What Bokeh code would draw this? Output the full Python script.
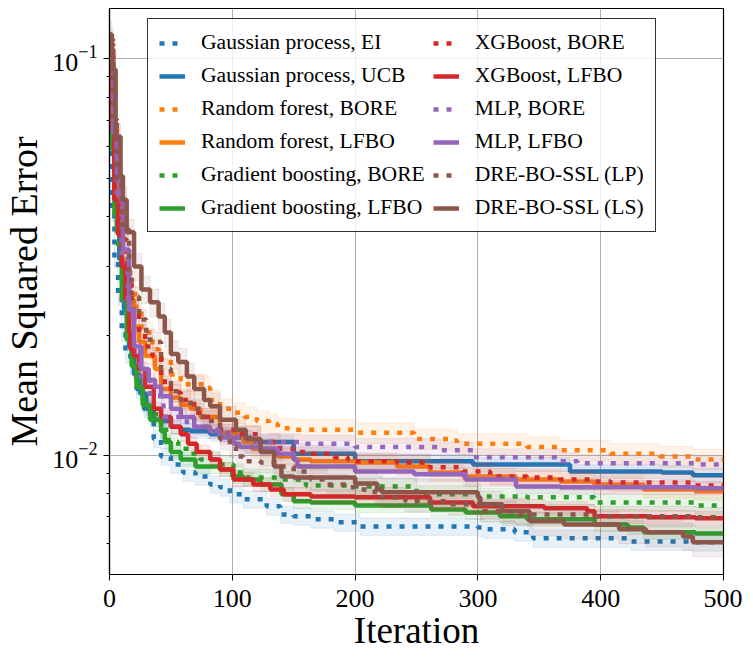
from bokeh.plotting import figure
from bokeh.models import Legend, LegendItem, FixedTicker, LogTickFormatter, Range1d
from bokeh.embed import file_html
from bokeh.resources import INLINE

# ---------------- data ----------------
gp_ei_x = [0, 1, 2, 4, 7, 10, 13, 17, 22, 28, 36, 42, 50, 60, 70, 82, 90, 98, 109, 128, 139, 150, 164, 183, 204, 300, 305, 330, 345, 425, 475, 500]
gp_ei_y = [0.1054, 0.0625, 0.0409, 0.0312, 0.0251, 0.0204, 0.0180, 0.0168, 0.0147, 0.0131, 0.0110, 0.00994, 0.00949, 0.00906, 0.00885, 0.00845, 0.00831, 0.00798, 0.00775, 0.00744, 0.00710, 0.00702, 0.00690, 0.00678, 0.00662, 0.00658, 0.00651, 0.00640, 0.00618, 0.00607, 0.00604, 0.00604]

gp_ucb_x = [0, 2, 5, 8, 12, 16, 20, 25, 30, 36, 42, 50, 58, 66, 82, 100, 115, 150, 200, 296, 375, 450, 475, 500]
gp_ucb_y = [0.1023, 0.0625, 0.0441, 0.0312, 0.0233, 0.0188, 0.0160, 0.0143, 0.0131, 0.0123, 0.0122, 0.0118, 0.0116, 0.0115, 0.0113, 0.0111, 0.0108, 0.0101, 0.00966, 0.00949, 0.00911, 0.00906, 0.00891, 0.00891]

rf_bore_x = [0, 3, 6, 10, 13, 17, 21, 26, 35, 40, 50, 58, 80, 82, 90, 100, 110, 120, 130, 137, 150, 200, 248, 277, 283, 340, 367, 408, 448, 475, 500]
rf_bore_y = [0.1085, 0.0702, 0.0496, 0.0350, 0.0294, 0.0262, 0.0237, 0.0204, 0.0185, 0.0175, 0.0160, 0.0151, 0.0148, 0.0138, 0.0131, 0.0128, 0.0125, 0.0122, 0.0120, 0.0117, 0.0116, 0.0114, 0.0110, 0.0109, 0.0107, 0.0105, 0.0103, 0.0101, 0.00994, 0.00977, 0.00977]

rf_lfbo_x = [0, 3, 6, 10, 15, 20, 24, 29, 37, 42, 50, 58, 66, 74, 90, 100, 109, 116, 137, 150, 164, 200, 234, 261, 288, 331, 367, 395, 435, 477, 500]
rf_lfbo_y = [0.1054, 0.0625, 0.0441, 0.0312, 0.0247, 0.0211, 0.0193, 0.0178, 0.0165, 0.0147, 0.0140, 0.0134, 0.0131, 0.0125, 0.0114, 0.0113, 0.0108, 0.0104, 0.00994, 0.00977, 0.00966, 0.00960, 0.00938, 0.00906, 0.00885, 0.00870, 0.00860, 0.00845, 0.00821, 0.00812, 0.00812]

gb_bore_x = [0, 2, 4, 7, 10, 14, 18, 22, 27, 33, 42, 48, 56, 66, 74, 90, 101, 109, 137, 160, 200, 250, 300, 340, 395, 477, 500]
gb_bore_y = [0.1023, 0.0625, 0.0441, 0.0330, 0.0262, 0.0204, 0.0175, 0.0155, 0.0138, 0.0127, 0.0116, 0.0108, 0.0104, 0.0101, 0.00977, 0.00949, 0.00906, 0.00880, 0.00870, 0.00840, 0.00835, 0.00798, 0.00788, 0.00784, 0.00761, 0.00748, 0.00748]

gb_lfbo_x = [0, 2, 4, 6, 10, 14, 18, 22, 27, 33, 42, 45, 50, 58, 70, 90, 100, 109, 123, 140, 150, 164, 200, 262, 290, 318, 340, 395, 422, 435, 477, 500]
gb_lfbo_y = [0.1023, 0.0590, 0.0405, 0.0365, 0.0247, 0.0196, 0.0168, 0.0149, 0.0134, 0.0123, 0.0115, 0.0108, 0.0102, 0.00977, 0.00938, 0.00922, 0.00885, 0.00870, 0.00845, 0.00798, 0.00766, 0.00761, 0.00748, 0.00731, 0.00718, 0.00702, 0.00690, 0.00670, 0.00658, 0.00640, 0.00636, 0.00636]

xgb_bore_x = [0, 3, 6, 10, 14, 18, 24, 29, 35, 42, 45, 50, 58, 69, 77, 90, 101, 123, 139, 150, 164, 183, 194, 200, 234, 261, 288, 310, 340, 367, 395, 408, 477, 500]
xgb_bore_y = [0.1085, 0.0702, 0.0496, 0.0350, 0.0278, 0.0233, 0.0204, 0.0188, 0.0178, 0.0157, 0.0151, 0.0144, 0.0138, 0.0128, 0.0125, 0.0116, 0.0113, 0.0108, 0.0104, 0.0102, 0.0101, 0.00989, 0.00977, 0.00966, 0.00960, 0.00933, 0.00911, 0.00885, 0.00880, 0.00870, 0.00860, 0.00855, 0.00840, 0.00840]

xgb_lfbo_x = [0, 2, 4, 7, 10, 13, 16, 17, 20, 24, 29, 36, 42, 50, 58, 64, 71, 82, 90, 101, 117, 131, 142, 164, 200, 261, 296, 354, 389, 395, 438, 477, 500]
xgb_lfbo_y = [0.1117, 0.0662, 0.0441, 0.0360, 0.0299, 0.0247, 0.0204, 0.0185, 0.0178, 0.0165, 0.0149, 0.0131, 0.0125, 0.0118, 0.0113, 0.0107, 0.0102, 0.00977, 0.00922, 0.00870, 0.00845, 0.00821, 0.00798, 0.00788, 0.00784, 0.00761, 0.00744, 0.00736, 0.00723, 0.00702, 0.00698, 0.00694, 0.00694]

mlp_bore_x = [0, 3, 6, 10, 15, 20, 25, 33, 44, 63, 80, 90, 104, 118, 155, 200, 270, 296, 367, 381, 477, 500]
mlp_bore_y = [0.1023, 0.0625, 0.0441, 0.0312, 0.0233, 0.0185, 0.0158, 0.0141, 0.0125, 0.0118, 0.0116, 0.0114, 0.0110, 0.0108, 0.0107, 0.0105, 0.0103, 0.00989, 0.00966, 0.00955, 0.00949, 0.00949]

mlp_lfbo_x = [0, 3, 6, 9, 11, 16, 20, 26, 32, 37, 42, 50, 58, 69, 82, 90, 101, 106, 123, 137, 150, 153, 200, 248, 290, 331, 367, 477, 500]
mlp_lfbo_y = [0.0994, 0.0651, 0.0496, 0.0441, 0.0330, 0.0233, 0.0188, 0.0165, 0.0155, 0.0149, 0.0141, 0.0131, 0.0125, 0.0118, 0.0115, 0.0111, 0.0107, 0.0105, 0.0104, 0.0101, 0.00977, 0.00938, 0.00911, 0.00896, 0.00870, 0.00835, 0.00831, 0.00826, 0.00826]

dre_lp_x = [0, 3, 6, 10, 16, 18, 24, 30, 37, 42, 50, 58, 66, 76, 90, 98, 103, 109, 123, 137, 150, 164, 177, 194, 200, 216, 222, 241, 276, 302, 331, 395, 477, 500]
dre_lp_y = [0.1117, 0.0702, 0.0496, 0.0371, 0.0282, 0.0251, 0.0220, 0.0196, 0.0193, 0.0165, 0.0145, 0.0138, 0.0131, 0.0122, 0.0110, 0.0105, 0.00994, 0.00966, 0.00960, 0.00938, 0.00911, 0.00870, 0.00845, 0.00831, 0.00821, 0.00798, 0.00784, 0.00766, 0.00753, 0.00723, 0.00710, 0.00702, 0.00698, 0.00698]

dre_ls_x = [0, 2, 5, 9, 11, 14, 20, 26, 33, 40, 45, 50, 56, 63, 69, 77, 82, 90, 103, 111, 123, 134, 140, 150, 200, 218, 222, 300, 302, 320, 342, 370, 415, 437, 467, 475, 500]
dre_ls_y = [0.1150, 0.0938, 0.0636, 0.0505, 0.0441, 0.0365, 0.0299, 0.0262, 0.0243, 0.0224, 0.0204, 0.0180, 0.0172, 0.0158, 0.0147, 0.0138, 0.0133, 0.0123, 0.0116, 0.0110, 0.0102, 0.00938, 0.00885, 0.00880, 0.00850, 0.00821, 0.00807, 0.00784, 0.00753, 0.00723, 0.00682, 0.00670, 0.00651, 0.00640, 0.00625, 0.00604, 0.00604]

labels = ["Gaussian process, EI", "Gaussian process, UCB", "Random forest, BORE", "Random forest, LFBO",
          "Gradient boosting, BORE", "Gradient boosting, LFBO", "XGBoost, BORE", "XGBoost, LFBO",
          "MLP, BORE", "MLP, LFBO", "DRE-BO-SSL (LP)", "DRE-BO-SSL (LS)"]
xs = [gp_ei_x, gp_ucb_x, rf_bore_x, rf_lfbo_x, gb_bore_x, gb_lfbo_x, xgb_bore_x, xgb_lfbo_x, mlp_bore_x, mlp_lfbo_x, dre_lp_x, dre_ls_x]
ys = [gp_ei_y, gp_ucb_y, rf_bore_y, rf_lfbo_y, gb_bore_y, gb_lfbo_y, xgb_bore_y, xgb_lfbo_y, mlp_bore_y, mlp_lfbo_y, dre_lp_y, dre_ls_y]
# relative half-width of the shaded band around each curve
band_rel = [0.05, 0.04, 0.06, 0.05, 0.05, 0.04, 0.05, 0.04, 0.05, 0.04, 0.06, 0.08]

x_ticks = [0, 100, 200, 300, 400, 500]
y_ticks = [0.01, 0.1]
y_minor = [0.006, 0.007, 0.008, 0.009, 0.02, 0.03, 0.04, 0.05, 0.06, 0.07, 0.08, 0.09]

# ---------------- styling ----------------
palette = ["#1f77b4", "#1f77b4", "#ff7f0e", "#ff7f0e", "#2ca02c", "#2ca02c",
           "#d62728", "#d62728", "#9467bd", "#9467bd", "#8c564b", "#8c564b"]
dotted = [True, False] * 6
FONT = "Liberation Serif"

p = figure(x_axis_type="linear", y_axis_type="log",
           x_range=Range1d(0, 500), y_range=Range1d(0.00501, 0.1337),
           frame_width=614, frame_height=566,
           min_border_left=104, min_border_right=19, min_border_top=8, min_border_bottom=68,
           output_backend="svg", toolbar_location=None)

renderers = []
for x, y, r, c, d in zip(xs, ys, band_rel, palette, dotted):
    lo = [v * (1 - r) for v in y]
    hi = [v * (1 + r) for v in y]
    p.varea_step(x=x, y1=lo, y2=hi, step_mode="after", fill_color=c, fill_alpha=0.1)
    p.step(x=x, y=hi, mode="after", line_color=c, line_alpha=0.12, line_width=1)
    p.step(x=x, y=lo, mode="after", line_color=c, line_alpha=0.12, line_width=1)
    rr = p.step(x=x, y=y, mode="after", line_color=c, line_width=4.5,
                line_dash="5 8" if d else "solid", line_cap="butt")
    renderers.append(rr)

p.outline_line_color = "black"
p.outline_line_width = 1.2
p.xgrid.grid_line_color = "#b0b0b0"
p.ygrid.grid_line_color = "#b0b0b0"
p.xgrid.grid_line_width = 1
p.ygrid.grid_line_width = 1

p.xaxis.ticker = FixedTicker(ticks=x_ticks)
p.yaxis.ticker = FixedTicker(ticks=y_ticks, minor_ticks=y_minor)
p.yaxis.formatter = LogTickFormatter()
for ax in (p.xaxis, p.yaxis):
    ax.axis_line_color = "black"
    ax.axis_line_width = 1.2
    ax.major_tick_line_color = "black"
    ax.minor_tick_line_color = "black"
    ax.major_tick_out = 6
    ax.major_tick_in = 0
    ax.minor_tick_out = 3
    ax.minor_tick_in = 0
    ax.major_label_text_font = FONT
    ax.major_label_text_font_size = "26px"
    ax.major_label_text_color = "black"
    ax.axis_label_text_font = FONT
    ax.axis_label_text_font_style = "normal"
    ax.axis_label_text_font_size = "37px"
    ax.axis_label_text_color = "black"
p.xaxis.axis_label = "Iteration"
p.yaxis.axis_label = "Mean Squared Error"
p.yaxis.axis_label_text_font_size = "38px"
p.xaxis.major_label_standoff = 9
p.yaxis.major_label_standoff = 6
p.xaxis.axis_label_standoff = 0
p.yaxis.axis_label_standoff = 4

items = [LegendItem(label=l, renderers=[r]) for l, r in zip(labels, renderers)]
legend = Legend(items=items, location=(38, 342), ncols=2, nrows=6, orientation="vertical",
                label_text_font=FONT, label_text_font_size="21.6px", label_text_color="black",
                glyph_width=26, glyph_height=20, label_standoff=16, spacing=8,
                padding=11, margin=0, label_height=25,
                border_line_color="black", border_line_width=1.2, border_line_alpha=0.8,
                background_fill_color="white", background_fill_alpha=0.8)
p.add_layout(legend)

open("out.html", "w").write(file_html(p, INLINE))
